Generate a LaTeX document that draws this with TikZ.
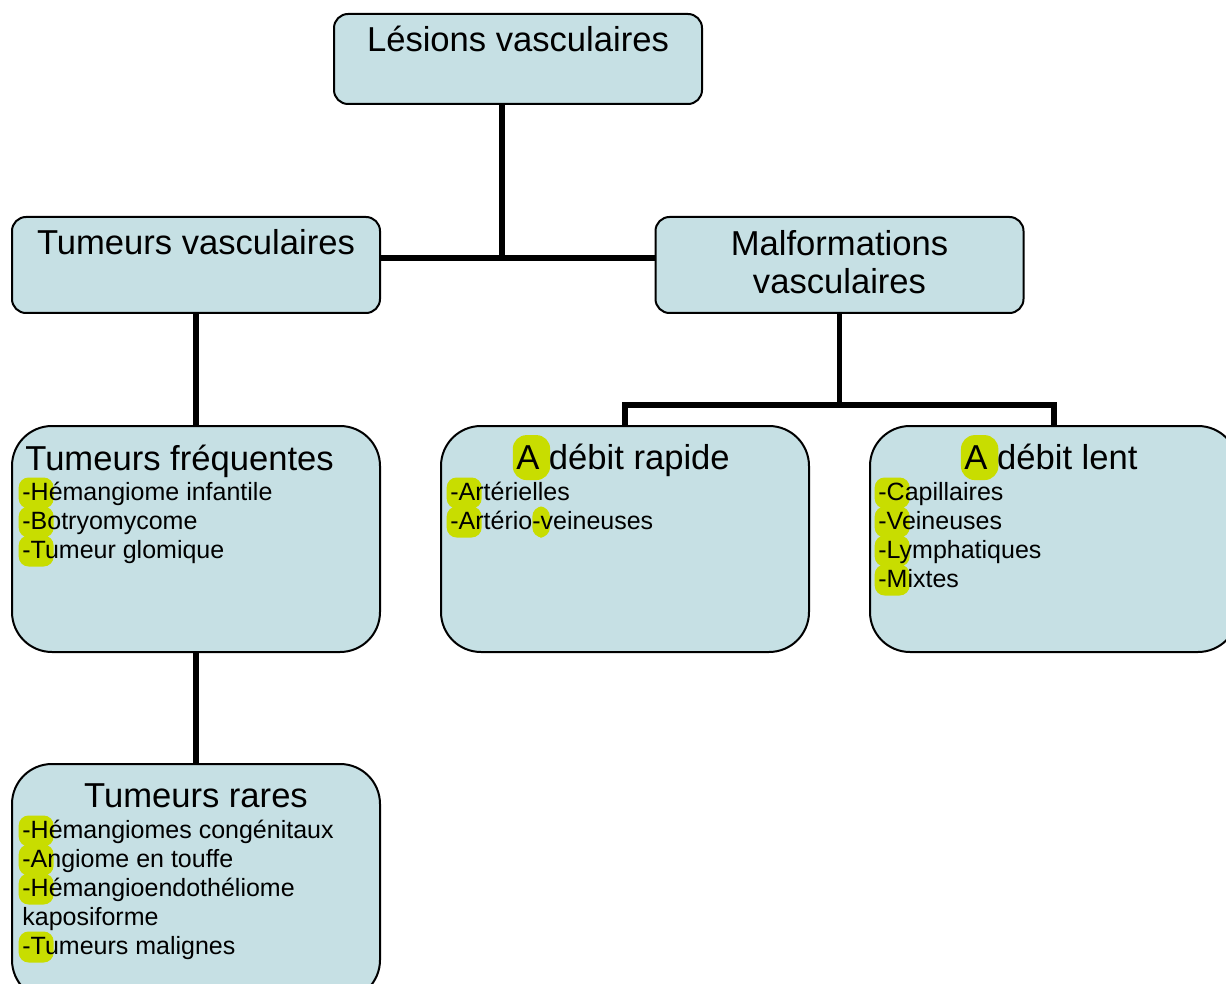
\documentclass[tikz,border=0pt]{standalone}
\usepackage{fontspec}
\setmainfont{Liberation Sans}

\definecolor{boite}{RGB}{198,224,228}
\definecolor{surligneur}{RGB}{200,221,0}

% surlignage jaune derriere le debut d'une ligne
\newcommand{\surligne}[2][-0.15em]{\tikz[overlay]\fill[surligneur,rounded corners=0.4em] (#1,-0.34em) rectangle (#2,0.9em);}
\newcommand{\surlignetitre}{\tikz[overlay]\fill[surligneur,rounded corners=0.4em] (-0.1em,-0.32em) rectangle (0.98em,0.98em);}

\tikzset{
  boitepetite/.style={draw, line width=1pt, fill=boite, rounded corners=7pt,
    minimum width=184pt, minimum height=48pt, inner sep=0pt, outer sep=0pt},
  boitegrande/.style={boitepetite, rounded corners=20pt, minimum height=113pt},
  titre/.style={anchor=base, inner sep=0pt, font=\fontsize{17.3}{19}\selectfont},
  liste/.style={anchor=base west, inner sep=0pt, align=left, font=\fontsize{12.5}{14.5}\selectfont},
  lien/.style={line width=2.7pt}
}

\begin{document}
\begin{tikzpicture}[x=0.5pt, y=-0.5pt]
\useasboundingbox (0,0) rectangle (1226,984);
\clip (0,0) rectangle (1226,984);

% boites
\node[boitepetite, minimum height=45pt] (lesions) at (518,59) {};
\node[boitepetite] (tumvasc) at (196,265) {};
\node[boitepetite] (malform) at (839.5,265) {};
\node[boitegrande] (tumfreq) at (196,539) {};
\node[boitegrande] (rapide) at (625,539) {};
\node[boitegrande] (lent) at (1054,539) {};
\node[boitegrande, minimum height=118pt] (tumrares) at (196,882) {};

% liens
\coordinate (jonction) at (502,258);
\coordinate (fourche) at (839.5,405);
\draw[lien] (lesions.south -| jonction) -- (jonction);
\draw[lien] (tumvasc.east |- jonction) -- (malform.west |- jonction);
\draw[lien] (tumvasc.south) -- (tumfreq.north);
\draw[lien] (tumfreq.south) -- (tumrares.north);
\draw[lien] (malform.south) -- (fourche);
\draw[lien] (rapide.north) |- (fourche) -| (lent.north);

% textes (ancre base = ligne de base de la derniere ligne)
\node[titre] (t-lesions) at (518,52) {Lésions vasculaires};
\node[titre] (t-tumvasc) at (196,255) {Tumeurs vasculaires};
\node[titre, align=center] (t-malform) at (839.5,293) {Malformations\\vasculaires};
\node[titre, anchor=base west] (t-tumfreq) at (25,470) {Tumeurs fréquentes};
\node[liste] (l-tumfreq) at (22,558) {%
  \surligne{1.25em}-Hémangiome infantile\\
  \surligne{1.25em}-Botryomycome\\
  \surligne{1.25em}-Tumeur glomique};
\node[titre] (t-rapide) at (623,469) {\surlignetitre A débit rapide};
\node[liste] (l-rapide) at (450,529) {%
  \surligne{1.25em}-Artérielles\\
  \surligne{1.25em}-Artério\surligne[0em]{0.7em}-veineuses};
\node[titre] (t-lent) at (1051,469) {\surlignetitre A débit lent};
\node[liste] (l-lent) at (878,587) {%
  \surligne{1.25em}-Capillaires\\
  \surligne{1.25em}-Veineuses\\
  \surligne{1.25em}-Lymphatiques\\
  \surligne{1.25em}-Mixtes};
\node[titre] (t-tumrares) at (196,807) {Tumeurs rares};
\node[liste] (l-tumrares) at (22,954) {%
  \surligne{1.25em}-Hémangiomes congénitaux\\
  \surligne{1.25em}-Angiome en touffe\\
  \surligne{1.25em}-Hémangioendothéliome\\
  kaposiforme\\
  \surligne{1.25em}-Tumeurs malignes};
\end{tikzpicture}
\end{document}
